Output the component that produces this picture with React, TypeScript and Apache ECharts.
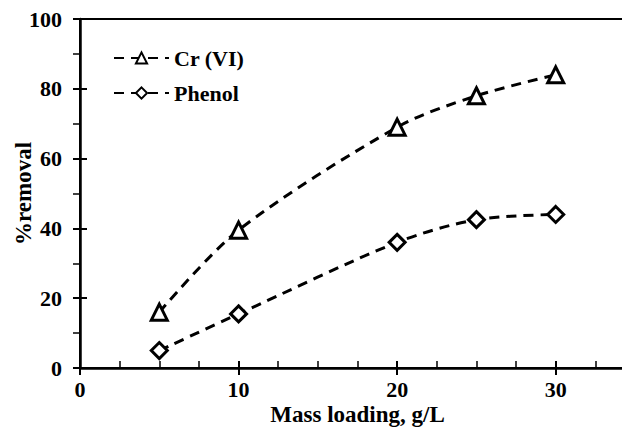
import React, { useEffect, useRef } from "react";
import * as echarts from "echarts";

const massLoading = [5, 10, 20, 25, 30];
const crVI = [16, 39.5, 69, 78, 84];
const phenol = [5, 15.5, 36, 42.5, 44];
const seriesNames = ["Cr (VI)", "Phenol"];
const xTitle = "Mass loading, g/L";
const yTitle = "%removal";

const FONT = "'Liberation Serif', 'Times New Roman', serif";

export default function App() {
  const ref = useRef<HTMLDivElement>(null);
  useEffect(() => {
    if (!ref.current) return;
    const chart = echarts.init(ref.current, undefined, { renderer: "svg" });
    const labelStyle = { color: "#000", fontFamily: FONT, fontWeight: "bold" as const, fontSize: 23 };
    const tickStyle = { ...labelStyle, fontSize: 22 };
    const xBase = { type: "value" as const, min: 0, max: 35, interval: 10, position: "bottom" as const, splitLine: { show: false } };
    const yBase = { type: "value" as const, min: 0, max: 100, interval: 20, position: "left" as const, splitLine: { show: false } };
    const mk = (x: number[], y: number[]) => x.map((v, i) => [v, y[i]]);
    chart.setOption({
      animation: false,
      backgroundColor: "#fff",
      grid: {
        left: 80, right: 0, top: 19, bottom: 64,
        containLabel: false, outerBoundsMode: "none",
        show: true, borderColor: "#000", borderWidth: 2, backgroundColor: "transparent",
      },
      legend: {
        orient: "vertical",
        left: 113,
        top: 47,
        padding: 0,
        itemWidth: 55,
        itemHeight: 14,
        itemGap: 13,
        textStyle: { color: "#000", fontFamily: FONT, fontWeight: "bold", fontSize: 22 },
        data: seriesNames,
      },
      xAxis: [
        {
          ...xBase,
          name: xTitle,
          nameLocation: "middle",
          nameGap: 35,
          nameMoveOverlap: false,
          nameTextStyle: labelStyle,
          axisLine: { show: true, onZero: false, lineStyle: { color: "#000", width: 2.5 } },
          axisTick: { show: true, inside: false, length: 7, lineStyle: { color: "#000", width: 2 } },
          minorTick: { show: false },
          axisLabel: { ...tickStyle, margin: 10, showMaxLabel: false },
        },
        {
          ...xBase,
          axisLine: { show: false, onZero: false },
          axisTick: { show: true, inside: true, length: 7, lineStyle: { color: "#000", width: 2 } },
          minorTick: { show: true, splitNumber: 4, length: 7, lineStyle: { color: "#000", width: 1.5 } },
          axisLabel: { show: false },
        },
      ],
      yAxis: [
        {
          ...yBase,
          name: yTitle,
          nameLocation: "middle",
          nameGap: 45,
          nameMoveOverlap: false,
          nameTextStyle: labelStyle,
          axisLine: { show: true, onZero: false, lineStyle: { color: "#000", width: 2.5 } },
          axisTick: { show: true, inside: false, length: 7, lineStyle: { color: "#000", width: 2 } },
          minorTick: { show: true, splitNumber: 2, length: 7, lineStyle: { color: "#000", width: 1.5 } },
          axisLabel: { ...tickStyle, margin: 18 },
        },
        {
          ...yBase,
          axisLine: { show: false, onZero: false },
          axisTick: { show: true, inside: true, length: 7, lineStyle: { color: "#000", width: 2 } },
          minorTick: { show: false },
          axisLabel: { show: false },
        },
      ],
      series: [
        {
          name: seriesNames[0],
          type: "line",
          xAxisIndex: 0,
          yAxisIndex: 0,
          data: mk(massLoading, crVI),
          smooth: 0.3,
          symbol: "triangle",
          symbolSize: 16,
          lineStyle: { color: "#000", width: 3, type: [10, 7] },
          itemStyle: { color: "#fff", borderColor: "#000", borderWidth: 3 },
          z: 3,
        },
        {
          name: seriesNames[1],
          type: "line",
          xAxisIndex: 0,
          yAxisIndex: 0,
          data: mk(massLoading, phenol),
          smooth: 0.3,
          symbol: "diamond",
          symbolSize: 16,
          lineStyle: { color: "#000", width: 3, type: [10, 7] },
          itemStyle: { color: "#fff", borderColor: "#000", borderWidth: 3 },
          z: 3,
        },
      ],
    });
    return () => chart.dispose();
  }, []);
  return <div ref={ref} style={{ position: "fixed", left: 0, top: 0, width: 635, height: 432 }} />;
}
